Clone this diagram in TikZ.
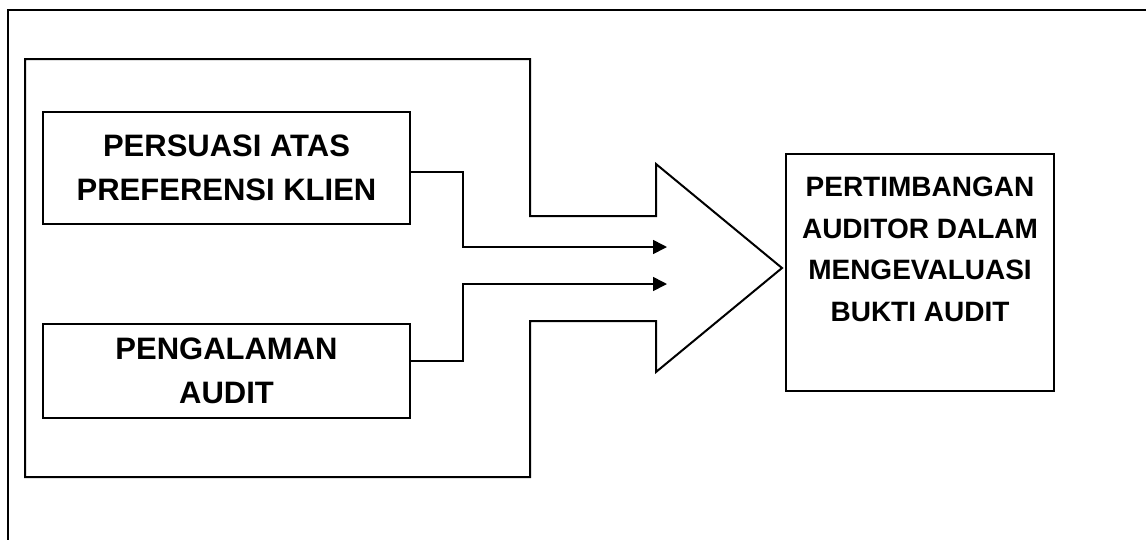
\documentclass[tikz,border=0pt]{standalone}
\usepackage{fontspec}
\setmainfont{Liberation Sans}
\usetikzlibrary{arrows.meta}
\tikzset{
  frameline/.style={line width=2pt, draw=black},
  boxnode/.style={draw=black, line width=2pt, align=center, inner sep=0pt},
  lefttext/.style={font=\bfseries\fontsize{31}{44}\selectfont},
  righttext/.style={font=\bfseries\fontsize{28}{41.5}\selectfont},
  conn/.style={line width=1.6pt, draw=black},
  arr/.style={conn, -{Triangle[length=14pt,width=14pt]}}
}
\begin{document}
\begin{tikzpicture}[x=1pt,y=-1pt]
\useasboundingbox (0,0) rectangle (1146,539);
\clip (0,0) rectangle (1146,539);
% outer frame (right and bottom edges lie beyond the picture)
\draw[frameline] (8,560) -- (8,10) -- (1170,10);
% big arrow-shaped outline
\draw[frameline, line join=miter] (25,59) -- (530,59) -- (530,216) -- (656,216) -- (656,164)
  -- (782,268) -- (656,372) -- (656,321) -- (530,321) -- (530,477) -- (25,477) -- cycle;
% boxes
\node[boxnode, lefttext, minimum width=367pt, minimum height=112pt] (b1) at (226.5,168)
  {PERSUASI ATAS\\PREFERENSI KLIEN};
\node[boxnode, lefttext, minimum width=367pt, minimum height=94pt] (b2) at (226.5,371)
  {PENGALAMAN\\AUDIT};
\node[boxnode, righttext, minimum width=268pt, minimum height=237pt] (b3) at (920,272.5)
  {PERTIMBANGAN\\AUDITOR DALAM\\MENGEVALUASI\\BUKTI AUDIT\\[5pt]};
% connector coordinates
\coordinate (xmid) at (463,0);
\coordinate (tip1) at (667,247);
\coordinate (tip2) at (667,284);
\coordinate (out1) at ([yshift=-4pt]b1.east);
\coordinate (out2) at ([yshift=10pt]b2.east);
\draw[arr] (out1) -- (out1 -| xmid) -- (xmid |- tip1) -- (tip1);
\draw[arr] (out2) -- (out2 -| xmid) -- (xmid |- tip2) -- (tip2);
\end{tikzpicture}
\end{document}
